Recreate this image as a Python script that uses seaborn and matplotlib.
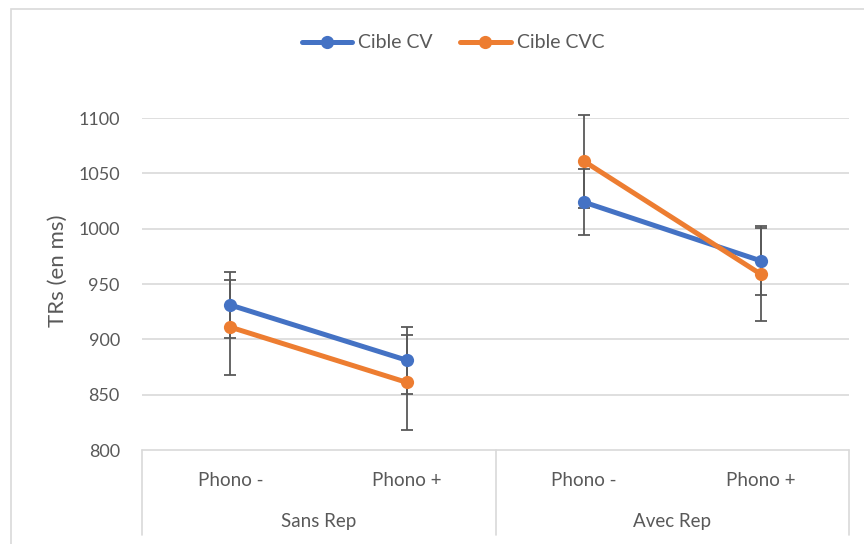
import matplotlib
matplotlib.use("Agg")
import matplotlib.pyplot as plt
import matplotlib.patches as mpatches
import numpy as np
import pandas as pd
import seaborn as sns

# Reaction times (ms) per condition
groups = ["Sans Rep", "Avec Rep"]
conditions = ["Phono -", "Phono +"]
series = ["Cible CV", "Cible CVC"]
cv_values = [931, 881, 1024, 971]
cvc_values = [911, 861, 1061, 959]
cv_errors = [30, 30, 30, 31]
cvc_errors = [43, 43, 42, 42]
y_ticks = [800, 850, 900, 950, 1000, 1050, 1100]

colors = {"Cible CV": "#4472C4", "Cible CVC": "#ED7D31"}
text_color = "#595959"
grid_color = "#D9D9D9"

rows = []
for s, vals, errs in [("Cible CV", cv_values, cv_errors), ("Cible CVC", cvc_values, cvc_errors)]:
    k = 0
    for gi, g in enumerate(groups):
        for ci, c in enumerate(conditions):
            rows.append(dict(serie=s, groupe=g, cond=c, pos=gi * 2 + ci + 0.5,
                             tr=vals[k], err=errs[k]))
            k += 1
df = pd.DataFrame(rows)

sns.set_theme(style="white")
plt.rcParams["font.family"] = ["Lato", "DejaVu Sans"]

fig = plt.figure(figsize=(8.64, 5.44), dpi=100)
ax = fig.add_axes([142 / 864, 1 - 450 / 544, 707 / 864, 332 / 544])

# Outer chart frame
fig.patches.append(mpatches.Rectangle((11 / 864, -0.5), 2, 1.5 - 9 / 544,
                                      transform=fig.transFigure, fill=False,
                                      edgecolor=grid_color, linewidth=1.2))

# Error bars under the lines
for s in series:
    d = df[df.serie == s]
    eb = ax.errorbar(d.pos, d.tr, yerr=d.err, fmt="none", ecolor="#595959",
                     elinewidth=1.3, capsize=4.5, capthick=1.3, zorder=2)
    for artist in eb.lines[1] + eb.lines[2]:
        artist.set_clip_on(False)

sns.lineplot(data=df, x="pos", y="tr", hue="serie", units="groupe",
             estimator=None, palette=colors, hue_order=series, marker="o",
             markersize=9.5, markeredgewidth=0, linewidth=3.6, ax=ax,
             legend=False, zorder=3)

ax.set_xlim(0, 4)
ax.set_ylim(800, 1100)
ax.set_yticks(y_ticks)
ax.set_yticklabels([str(t) for t in y_ticks], color=text_color, fontsize=13)
ax.tick_params(axis="y", length=0, pad=16)
ax.set_xticks([])
ax.set_xlabel("")
ax.set_ylabel("TRs (en ms)", color=text_color, fontsize=16)
ax.yaxis.set_label_coords(-(142 - 68) / 707, (450 - 271) / 332)
for sp in ax.spines.values():
    sp.set_visible(False)

for t in y_ticks[1:]:
    ax.axhline(t, color=grid_color, linewidth=1.2, zorder=0)

# Two-level category axis
depth = -(535 - 450) / 332
ax.plot([0, 1], [0, 0], transform=ax.transAxes, color=grid_color, lw=1.2, clip_on=False, zorder=1)
for xf in [0, 0.5, 1]:
    ax.plot([xf, xf], [0, depth], transform=ax.transAxes, color=grid_color,
            lw=1.2, clip_on=False)
trans = ax.get_xaxis_transform()
for gi, g in enumerate(groups):
    for ci, c in enumerate(conditions):
        ax.text(gi * 2 + ci + 0.5, -(480 - 450) / 332, c, transform=trans,
                ha="center", va="center", color=text_color, fontsize=13.5)
    ax.text(gi * 2 + 1, -(521 - 450) / 332, g, transform=trans,
            ha="center", va="center", color=text_color, fontsize=13.5)

# Legend at top
handles = [plt.Line2D([], [], color=colors[s], lw=3.6, marker="o", markersize=9.5,
                      markeredgewidth=0) for s in series]
fig.legend(handles, series, loc="center", bbox_to_anchor=(453 / 864, 1 - 43 / 544),
           ncol=2, frameon=False, fontsize=14, labelcolor=text_color,
           handlelength=2.6, handletextpad=0.3, columnspacing=1.4)

fig.savefig("out.png", dpi=100)
